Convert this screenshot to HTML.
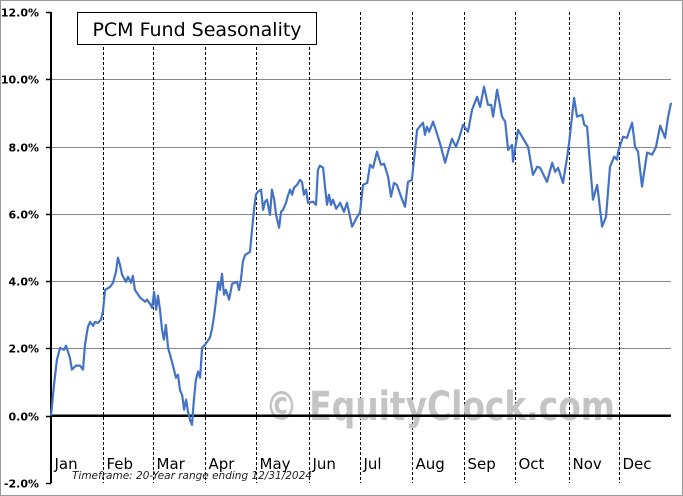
<!DOCTYPE html>
<html><head><meta charset="utf-8"><style>
body{margin:0;background:#fff}
svg{display:block}
text{font-family:"DejaVu Sans","Liberation Sans",sans-serif}
</style></head><body>
<svg id="chart" width="683" height="496" viewBox="0 0 683 496" xmlns="http://www.w3.org/2000/svg">
<rect x="0.5" y="0.5" width="682" height="495" fill="#fff" stroke="#999"/>
<g id="grid"></g>
<g id="months"></g>
<text x="265" y="420" font-size="40" font-weight="bold" fill="#c4c4c4" font-family="Liberation Sans, sans-serif" textLength="350" lengthAdjust="spacingAndGlyphs">© EquityClock.com</text>
<g id="axes"></g>
<path id="line" fill="none" stroke="#4472c4" stroke-width="2.2" stroke-linejoin="round"/>
<rect x="77.5" y="12.5" width="239" height="32" fill="#fff" stroke="#000"/>
<text x="197" y="36" font-size="19" text-anchor="middle" fill="#000">PCM Fund Seasonality</text>
<text x="72" y="479" font-size="10.5" font-style="italic" fill="#222">Timeframe: 20-Year range ending 12/31/2024</text>
</svg>
<script>
const days=[0,1.2,2.4,3.7,5.3,6.1,7.7,8.5,10.2,11.8,13.0,13.8,15.0,15.9,17.1,17.9,19.1,20.3,21.1,22.0,24.0,25.2,26.4,27.2,28.0,28.9,30.5,31.3,32.5,33.3,34.1,36.2,38.2,39.0,40.2,41.1,41.9,42.7,43.5,44.3,45.1,45.9,46.7,47.6,49.2,50.8,51.6,52.4,53.3,54.1,54.9,55.7,56.5,57.3,58.1,58.9,59.8,60.6,61.4,62.6,64.6,65.4,66.3,67.1,67.9,68.7,69.5,70.3,71.1,72.4,73.6,75.6,76.4,77.2,78.0,78.9,80.9,81.7,82.5,83.3,84.1,85.4,86.2,87.0,87.8,89.0,89.8,90.7,91.5,92.7,93.5,94.3,95.5,96.3,97.2,98.0,98.8,100.0,101.2,102.0,102.8,103.7,104.5,106.5,107.7,108.5,109.3,110.6,111.4,112.2,113.0,113.8,114.6,115.9,117.5,119.1,120.3,122.4,124.4,125.6,126.8,128.5,129.7,130.9,132.5,134.1,135.4,137.0,138.2,139.4,140.6,142.3,143.9,145.1,146.7,148.8,151.2,152.0,152.8,153.7,155.3,157.3,158.5,160.2,161.4,163.0,164.6,165.9,167.5,169.5,171.1,173.2,174.4,176.0,177.6,178.9,179.7,181.3,183.3,184.6,185.8,187.4,187.8,188.6,189.8,191.5,193.9,195.9,197.6,198.8,201.6,203.7,204.9,206.1,208.1,209.8,210.6,212.6,213.8,215.9,216.7,217.9,218.7,220.3,222.0,224.0,225.6,227.2,228.9,230.1,230.5,232.5,234.1,236.2,237.4,238.6,240.2,242.3,244.3,245.9,247.6,249.6,250.8,252.0];
const values=[0,0.92,1.66,2.02,1.96,2.08,1.72,1.37,1.49,1.49,1.37,2.11,2.64,2.79,2.67,2.79,2.76,2.85,3.09,3.74,3.83,3.95,4.28,4.70,4.49,4.19,3.98,4.13,3.95,4.16,3.74,3.51,3.39,3.45,3.33,3.21,3.68,3.15,3.57,3.15,2.56,2.26,2.70,2.02,1.60,1.13,1.22,0.77,0.62,0.18,0.48,0.12,-0.12,-0.27,0.48,1.07,1.31,1.13,2.02,2.11,2.32,2.56,2.97,3.45,3.98,3.74,4.22,3.60,3.74,3.45,3.92,3.98,3.74,4.04,4.58,4.78,4.87,5.53,6.12,6.57,6.66,6.72,6.12,6.36,6.42,5.97,6.72,6.42,5.97,5.59,6.06,6.12,6.33,6.54,6.72,6.57,6.78,6.86,7.01,6.95,6.57,6.72,6.33,6.36,6.27,7.31,7.43,7.37,6.78,6.27,6.57,6.27,6.42,6.15,6.33,6.06,6.33,5.62,5.91,6.03,6.86,6.92,7.46,7.37,7.85,7.46,7.49,7.10,6.51,6.92,6.86,6.51,6.21,6.95,7.01,8.50,8.71,8.35,8.59,8.44,8.74,8.29,7.99,7.52,7.85,8.23,7.99,8.26,8.65,8.44,9.09,9.48,9.18,9.78,9.24,9.24,8.89,9.69,8.89,8.74,7.90,8.05,7.55,7.90,8.50,8.29,7.99,7.16,7.40,7.37,6.95,7.52,7.25,7.37,6.92,7.70,8.11,9.45,8.89,8.94,8.65,8.59,7.82,6.42,6.86,5.62,5.91,7.40,7.70,7.61,7.85,8.29,8.26,8.71,7.99,7.85,6.81,7.82,7.76,7.99,8.62,8.26,8.86,9.30];
const monthNames=["Jan","Feb","Mar","Apr","May","Jun","Jul","Aug","Sep","Oct","Nov","Dec"];
const monthStarts=[0,21.1,41.3,62.6,83.3,104.7,125.5,146.9,168.0,188.7,210.4,230.8];
const yTicks=[-2,0,2,4,6,8,10,12];
const yTickLabels=["-2.0%","0.0%","2.0%","4.0%","6.0%","8.0%","10.0%","12.0%"];

const X0=51,X1=671,Y0=483,Y1=12;
const xScale=d=>X0+(d/252)*(X1-X0);
const yScale=v=>Y0-(v+2)/14*(Y0-Y1);
const NS="http://www.w3.org/2000/svg";
function mk(tag,attrs,parent,txt){const e=document.createElementNS(NS,tag);for(const k in attrs)e.setAttribute(k,attrs[k]);if(txt!==undefined)e.textContent=txt;parent.appendChild(e);return e;}
const grid=document.getElementById('grid'),months=document.getElementById('months'),axes=document.getElementById('axes');
yTicks.forEach((t,i)=>{
  const y=Math.round(yScale(t))+0.5;
  if(t!==0&&t!==-2&&t!==12){const g=mk('line',{x1:X0,x2:X1,y1:y,y2:y,stroke:'#888','stroke-width':1},grid);
    
    }
  const tk=mk('line',{x1:X0-5,x2:X0,y1:y,y2:y,stroke:'#000','stroke-width':1.5},axes);
  
  
  const lb=mk('text',{x:39,y:y+4,'font-size':11,'font-weight':'bold','text-anchor':'end',fill:'#000'},axes,yTickLabels[i]);
  
  
});
monthStarts.forEach((m,i)=>{
  const x=Math.round(xScale(m))+0.5;
  if(i>0){const l=mk('line',{x1:x,x2:x,y1:Y1,y2:Y0,stroke:'#000','stroke-width':1,'stroke-dasharray':'3,2'},months);
    
    }
  const t=mk('text',{x:x+3,y:469,'font-size':15,fill:'#000'},months,monthNames[i]);
  
  
});
const ax=mk('line',{x1:X0,x2:X0,y1:Y1,y2:Y0,stroke:'#000','stroke-width':2},axes);


const z=yScale(0);
const zl=mk('line',{x1:X0,x2:X1,y1:z,y2:z,stroke:'#000','stroke-width':2.5},axes);


document.getElementById('line').setAttribute('d',days.map((d,i)=>(i?'L':'M')+xScale(d).toFixed(1)+','+yScale(values[i]).toFixed(1)).join(''));
</script>
</body></html>
